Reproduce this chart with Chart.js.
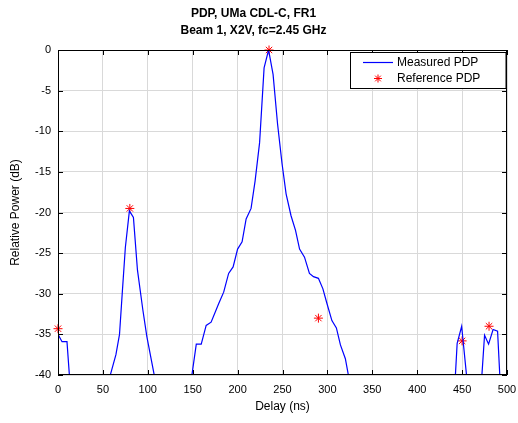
<!DOCTYPE html>
<html>
<head>
<meta charset="utf-8">
<script src="https://cdn.jsdelivr.net/npm/chart.js@4"></script>
<style>
  html, body { margin: 0; padding: 0; background: #fff; }
  #wrap { width: 518px; height: 423px; }
</style>
</head>
<body>
<div id="wrap"><canvas id="pdp" width="518" height="423"></canvas></div>
<script>
// ---------------- data ----------------
// measured PDP (delay in ns, power in dB); values under -40 fall off the axes
var measuredDelay = [0, 4.5, 10, 13, 20, 50, 58, 64.5, 68.5, 71.5, 75, 79.5, 84, 88.5, 94.5, 99, 107.5, 115, 140,
    149, 154, 159.5, 165, 170.5, 179, 184.5, 190, 195, 200, 205, 209.5, 215, 219.5, 224.5, 229.5, 234.5, 239.5,
    244.5, 249.5, 254, 259.5, 264.5, 269, 274.5, 280, 284.5, 290, 295, 299.5, 305, 310, 314.5, 320, 323.5, 330,
    435, 442.5, 444.5, 449.5, 455, 460, 470, 472, 475, 479.5, 484.5, 489.5, 492, 500];
var measuredDb = [-35.0, -35.9, -35.9, -40.5, -55, -55, -40.1, -37.5, -35.0, -30.0, -24.3, -19.8, -20.6, -27.1, -32.0, -35.3, -40.2, -55, -55,
    -40.1, -36.2, -36.2, -33.9, -33.5, -31.2, -29.8, -27.5, -26.7, -24.5, -23.6, -20.8, -19.5, -16.1, -11.4, -2.2, 0, -3.0,
    -9.1, -14.0, -17.7, -20.4, -22.2, -24.5, -25.5, -27.5, -27.9, -28.1, -29.4, -31.2, -33.3, -34.2, -36.3, -38.0, -40.1, -55,
    -55, -40.1, -36.1, -34.0, -40.1, -55, -55, -40.1, -35.1, -36.2, -34.4, -34.6, -40.1, -55];

// reference PDP (CDL-C taps)
var refDelay = [0, 80, 235, 290, 450, 480];
var refDb = [-34.3, -19.5, 0, -33.0, -35.8, -34.0];

var xTicks = [0, 50, 100, 150, 200, 250, 300, 350, 400, 450, 500];
var yTicks = [-40, -35, -30, -25, -20, -15, -10, -5, 0];

var titleLines = ['PDP, UMa CDL-C, FR1', 'Beam 1, X2V, fc=2.45 GHz'];
//=====================================================================

var measuredPts = measuredDelay.map(function(v, i) { return {x: v, y: measuredDb[i]}; });
var refPts = refDelay.map(function(v, i) { return {x: v, y: refDb[i]}; });

var FONT = 'Arial, "Liberation Sans", Helvetica, sans-serif';

// box around the axes, inward ticks, legend box top right
var axesBox = {
    id: 'axesBox',
    afterDatasetsDraw: function(chart) {
        var c = chart.ctx, a = chart.chartArea;
        var xs = chart.scales.x, ys = chart.scales.y;
        c.save();
        c.strokeStyle = '#000';
        c.lineWidth = 1;
        c.strokeRect(a.left + 0.5, a.top + 0.5, a.right - a.left - 1, a.bottom - a.top - 1);
        c.beginPath();
        xTicks.forEach(function(t) {
            var px = Math.round(xs.getPixelForValue(t)) + 0.5;
            c.moveTo(px, a.bottom); c.lineTo(px, a.bottom - 5);
            c.moveTo(px, a.top); c.lineTo(px, a.top + 5);
        });
        yTicks.forEach(function(t) {
            var py = Math.round(ys.getPixelForValue(t)) + 0.5;
            c.moveTo(a.left, py); c.lineTo(a.left + 5, py);
            c.moveTo(a.right, py); c.lineTo(a.right - 5, py);
        });
        c.stroke();

        // legend
        var bx = 350.5, by = a.top + 2.5, bw = a.right - 351.5, bh = 36;
        c.fillStyle = '#fff';
        c.fillRect(bx, by, bw, bh);
        c.strokeRect(bx, by, bw, bh);
        c.font = '12px ' + FONT;
        c.textBaseline = 'middle';
        c.fillStyle = '#000';
        var d0 = chart.data.datasets[0], d1 = chart.data.datasets[1];
        var y1 = by + 10, y2 = by + 26;
        c.strokeStyle = d0.borderColor;
        c.lineWidth = 1.2;
        c.beginPath(); c.moveTo(363, y1); c.lineTo(393, y1); c.stroke();
        c.fillText(d0.label, 397, y1);
        c.fillText(d1.label, 397, y2);
        c.strokeStyle = d1.borderColor;
        c.lineWidth = 1;
        c.beginPath();
        var sx = 378, r = 4;
        for (var k = 0; k < 4; k++) {
            var ang = k * Math.PI / 4;
            c.moveTo(sx - r * Math.cos(ang), y2 - r * Math.sin(ang));
            c.lineTo(sx + r * Math.cos(ang), y2 + r * Math.sin(ang));
        }
        c.stroke();
        c.restore();
    }
};

var ctx = document.getElementById('pdp');
var chart = new Chart(ctx, {
    type: 'line',
    data: {
        datasets: [{
            label: 'Measured PDP',
            data: measuredPts,
            borderColor: '#0000ff',
            borderWidth: 1.2,
            pointRadius: 0,
            tension: 0,
            fill: false
        }, {
            label: 'Reference PDP',
            data: refPts,
            showLine: false,
            borderColor: '#ff0000',
            backgroundColor: '#ff0000',
            pointStyle: 'star',
            pointRadius: 4.5,
            pointBorderWidth: 1,
            clip: false
        }]
    },
    options: {
        responsive: false,
        animation: false,
        layout: { padding: { left: 0, right: 11, top: 0, bottom: 0 } },
        plugins: {
            legend: { display: false },
            tooltip: { enabled: false },
            title: {
                display: true,
                text: titleLines,
                color: '#000',
                font: { family: FONT, size: 12, weight: 'bold', lineHeight: 1.35 },
                padding: { top: 6, bottom: 11.6 }
            }
        },
        scales: {
            x: {
                type: 'linear',
                min: 0,
                max: 500,
                afterBuildTicks: function(s) { s.ticks = xTicks.map(function(v) { return {value: v}; }); },
                afterFit: function(s) { s.height = 48; s.paddingLeft = 0; s.paddingRight = 0; },
                grid: { color: '#d9d9d9', drawTicks: false },
                border: { display: false },
                ticks: { color: '#000', padding: 8, font: { family: FONT, size: 11 } },
                title: { display: true, text: 'Delay (ns)', color: '#000', font: { family: FONT, size: 12 }, padding: { top: 2, bottom: 9 } }
            },
            y: {
                type: 'linear',
                min: -40,
                max: 0,
                afterBuildTicks: function(s) { s.ticks = yTicks.map(function(v) { return {value: v}; }); },
                afterFit: function(s) { s.width = 58; s.paddingTop = 0; s.paddingBottom = 0; },
                grid: { color: '#d9d9d9', drawTicks: false },
                border: { display: false },
                ticks: { color: '#000', padding: 7, font: { family: FONT, size: 11 } },
                title: { display: true, text: 'Relative Power (dB)', color: '#000', font: { family: FONT, size: 12 }, padding: { top: 8, bottom: 4 } }
            }
        }
    },
    plugins: [axesBox]
});
</script>
</body>
</html>
